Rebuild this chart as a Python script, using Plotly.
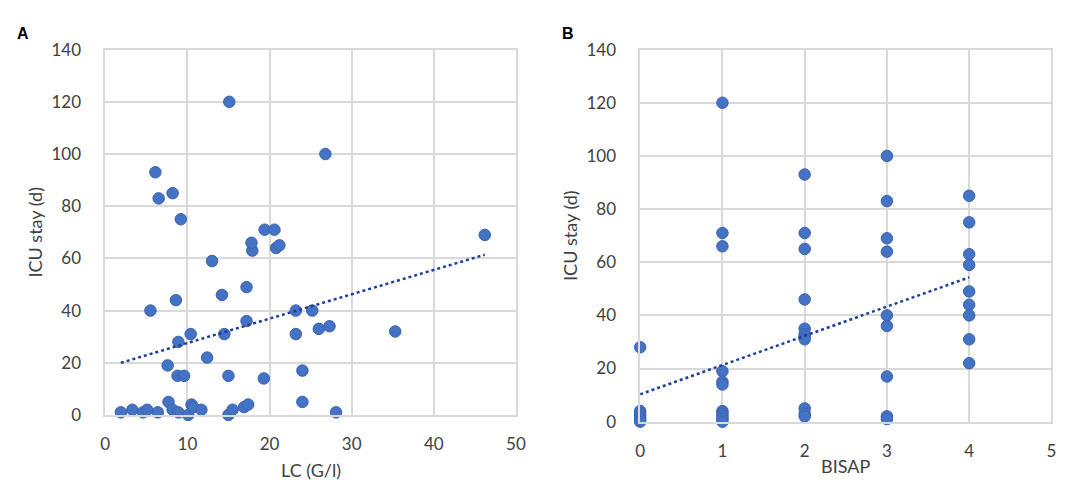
import plotly.graph_objects as go
from plotly.subplots import make_subplots

# panel A: leukocyte count vs ICU stay
lc = [1.9, 3.3, 4.6, 5.1, 6.4, 7.7, 8.2, 8.9, 10.1, 10.5, 10.7, 11.7, 15.0, 15.5,
      16.9, 17.4, 24.0, 28.1, 7.6, 8.8, 9.6, 12.4, 15.0, 19.3, 24.0, 8.9, 10.4,
      14.5, 23.2, 17.2, 26.0, 27.3, 35.3, 5.5, 23.2, 25.2, 8.6, 14.2, 17.2, 13.0,
      17.9, 20.8, 21.2, 17.8, 19.4, 20.6, 46.2, 9.2, 6.5, 8.2, 6.1, 26.8, 15.1]
icu_a = [1, 2, 1, 2, 1, 5, 2, 1, 0, 4, 3, 2, 0, 2,
         3, 4, 5, 1, 19, 15, 15, 22, 15, 14, 17, 28, 31,
         31, 31, 36, 33, 34, 32, 40, 40, 40, 44, 46, 49, 59,
         63, 64, 65, 66, 71, 71, 69, 75, 83, 85, 93, 100, 120]
trend_a_x = [1.9, 46.2]
trend_a_y = [20.0, 61.4]

# panel B: BISAP score vs ICU stay
bisap = [0, 0, 0, 0, 0, 0,
         1, 1, 1, 1, 1, 1, 1, 1, 1, 1, 1,
         2, 2, 2, 2, 2, 2, 2, 2, 2, 2, 2,
         3, 3, 3, 3, 3, 3, 3, 3, 3,
         4, 4, 4, 4, 4, 4, 4, 4, 4]
icu_b = [28, 4, 3, 2, 1, 0,
         120, 71, 66, 19, 15, 14, 4, 3, 2, 1, 0,
         93, 71, 65, 46, 35, 33, 32, 31, 5, 3, 2,
         100, 83, 69, 64, 40, 36, 17, 2, 1,
         85, 75, 63, 59, 49, 44, 40, 31, 22]
trend_b_x = [0, 4]
trend_b_y = [10.3, 54.3]

dot_color = "#4472C4"
trend_color = "#1F3E9C"
grid = "#D9D9D9"
tick_font = dict(family="Lato", size=17, color="#404040")
title_font = dict(family="Lato", size=18, color="#404040")

fig = make_subplots(rows=1, cols=2)

for x, y, col in [(lc, icu_a, 1), (bisap, icu_b, 2)]:
    fig.add_trace(go.Scatter(
        x=x, y=y, mode="markers", cliponaxis=False,
        marker=dict(size=11.5, color=dot_color, line=dict(color="#3A62AD", width=1)),
        showlegend=False), row=1, col=col)

for x, y, col in [(trend_a_x, trend_a_y, 1), (trend_b_x, trend_b_y, 2)]:
    fig.add_trace(go.Scatter(
        x=x, y=y, mode="lines",
        line=dict(color=trend_color, width=2.5, dash="dot"),
        showlegend=False), row=1, col=col)

axis_style = dict(showgrid=True, gridcolor=grid, gridwidth=1.5, showline=True,
                  linecolor=grid, linewidth=1.5, mirror=True, zeroline=False,
                  ticks="", tickfont=tick_font)

fig.update_xaxes(**axis_style, ticklabelstandoff=13)
fig.update_yaxes(**axis_style, range=[0, 140], dtick=20, ticklabelstandoff=19,
                 title=dict(text="ICU stay (d)", font=title_font, standoff=4))

fig.update_layout(
    xaxis=dict(domain=[0.0863, 0.4705], range=[0, 50], dtick=10),
    yaxis=dict(domain=[0.1429, 0.9337]),
    xaxis2=dict(domain=[0.5867, 0.9714], range=[0, 5], dtick=1),
    yaxis2=dict(domain=[0.1284, 0.9337]),
)

notes = [
    dict(text="LC (G/l)", x=302, y=471, font=title_font),
    dict(text="BISAP", x=844, y=467, font=title_font),
    dict(text="<b>A</b>", x=10, y=15,
         font=dict(family="Liberation Sans", size=16, color="black")),
    dict(text="<b>B</b>", x=563, y=15,
         font=dict(family="Liberation Sans", size=16, color="black")),
]
for n in notes:
    fig.add_annotation(text=n["text"], x=n["x"] / 1084, y=1 - n["y"] / 483,
                       xref="paper", yref="paper", showarrow=False,
                       font=n["font"], xanchor="center", yanchor="middle")

fig.update_layout(
    width=1084, height=483,
    margin=dict(l=0, r=0, t=0, b=0),
    paper_bgcolor="white", plot_bgcolor="white",
)

fig.write_html("out.html")
